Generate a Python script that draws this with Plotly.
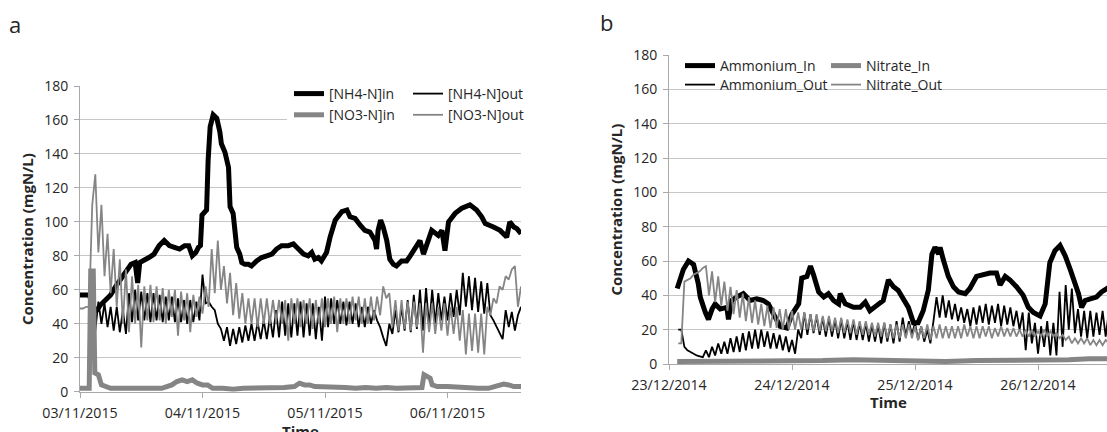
import pandas as pd
import plotly.graph_objects as go

W, H = 1107, 432
FONT = "Open Sans"
TXT = "#262626"
GRID = "#c6c6c6"
AXC = "#a9a9a9"
BLACK = "#000000"
GREY = "#858585"

# ---------------- panel a : 3-6 November 2015 ----------------
start_a = pd.Timestamp("2015-11-03 00:00")
end_a_h = 86.4

# influent ammonium (hours since start, mgN/L)
nh4_in_a_h = [0, 1, 1.9, 2.5, 3.3, 4, 5, 6, 7, 8, 9, 10, 10.8, 11.3, 11.7, 12.5, 13.5, 14.5,
              15.5, 16.5, 17.5, 18.5, 19.5, 20.5, 21.3, 22, 22.7, 23.2, 23.6, 23.9, 24.8, 25.1,
              25.5, 26.1, 26.8, 27.4, 27.7, 28.4, 29.1, 29.4, 30, 30.7, 31.3, 31.7, 32.3, 33,
              33.6, 34.6, 35.6, 36.6, 37.6, 38.5, 39.5, 40.8, 41.8, 42.8, 43.8, 44.7, 45.4, 46,
              46.7, 47.3, 48.3, 49, 50, 51.3, 52.3, 52.9, 53.9, 54.9, 55.8, 56.8, 57.8, 58.1,
              58.4, 58.9, 59.4, 60.1, 60.7, 61.4, 62, 63, 64, 64.7, 65.6, 66.6, 67.3, 67.9,
              68.9, 70.2, 70.9, 71.5, 72.2, 73.5, 74.8, 76.4, 77.7, 78.7, 79.4, 81, 82.3, 83.3,
              83.6, 84.2, 85, 85.6, 86.4]
nh4_in_a = [57, 57, 57, 47, 48, 51, 54, 57, 62, 66, 71, 75, 76, 64, 76, 77, 79, 81,
            86, 89, 86, 85, 84, 86, 86, 80, 82, 85, 86, 104, 107, 136,
            156, 163, 161, 153, 146, 141, 132, 109, 105, 85, 81, 76, 75, 75,
            74, 77, 79, 80, 81, 84, 86, 86, 87, 84, 81, 80, 82, 78,
            79, 77, 82, 91, 101, 106, 107, 103, 102, 98, 95, 94, 89, 84,
            95, 101, 97, 89, 78, 75, 74, 77, 77, 80, 84, 89, 81, 86,
            95, 92, 95, 83, 100, 105, 108, 110, 107, 103, 99, 97, 95, 92,
            91, 100, 97, 96, 93]

# influent nitrate
no3_in_a_h = [0, 1.8, 2.1, 2.6, 2.9, 3.6, 4.2, 5, 6, 8, 10, 12, 14, 16, 17, 18, 19, 20, 21,
              22, 23, 24, 25, 26, 28, 30, 32, 34, 36, 38, 40, 42, 43, 44, 45, 46, 48, 50,
              52, 54, 56, 58, 60, 62, 64, 66, 67, 67.4, 68.2, 68.6, 69, 70, 72, 74, 76, 78,
              80, 81, 82, 83, 84, 85, 86.4]
no3_in_a = [2, 2, 71, 71, 11, 10, 4, 3, 2, 2, 2, 2, 2, 2, 3, 4, 6, 7, 6,
            7, 5, 4, 4, 2, 2, 1.5, 2, 2, 2, 2, 2.5, 3, 5, 4, 4, 3, 3, 3,
            2.5, 2, 2.5, 2, 2.5, 2, 2, 2, 2.5, 10, 9, 8, 4, 3, 3, 2.5, 2, 2,
            2, 3, 4, 4.5, 4, 3, 3]

# effluent probes, logged every 36 minutes from the start of the run
nh4_out_a = [None, None, None, None, None,
             36, 53, 40, 52, 38, 50, 36, 50, 35, 48, 34, 58, 41, 60, 42, 59, 42, 58, 41, 58,
             42, 57, 41, 56, 42, 56, 41, 55, 41, 54, 40, 54, 41, 53, 42,
             69, 52, 53, 50, 48, 40, 37, 30, 38, 27, 37, 28, 38, 29, 39, 30, 40, 30, 41, 31,
             42, 31, 44, 32, 48, 32, 53, 33, 52, 32, 52, 33, 53, 32, 52, 33, 52, 31, 50, 30,
             56, 38, 55, 40, 54, 40, 53, 39, 53, 40, 52, 38, 50, 38, 50, 40, 48, 42, 38, 32,
             27, 40, 34, 48, 35, 50, 36, 54, 35, 57, 37, 60, 36, 61, 38, 60, 40, 58, 42, 56,
             42, 58, 44, 60, 45, 70, 50, 68, 48, 67, 47, 65, 46, 64, 45, 42, 38, 34, 31, 48,
             38, 47, 36, 45, 50]
no3_out_a = [49, 49, 50, 50, 110, 128, 82, 110, 68, 93, 58, 84, 50, 78, 40, 72, 35, 68, 40, 63,
             26, 62, 42, 63, 41, 62, 42, 61, 40, 60, 44, 60, 33, 59, 42, 58, 35, 57, 44, 56,
             46, 62, 50, 84, 58,
             89, 60, 74, 52, 70, 45, 64, 43, 58, 40, 55, 40, 55, 38, 55, 40, 55, 40, 54, 41,
             54, 40, 54, 30, 55, 40, 55, 38, 54, 40, 55, 37, 54, 40, 55,
             38, 55, 40, 56, 35, 55, 40, 55, 40, 56, 42, 56, 40, 55, 40, 56, 42, 56, 45, 62,
             55, 58, 38, 54, 36, 54, 37, 53, 36, 53, 38, 52, 23, 52, 35, 52, 34, 50, 36, 52,
             33, 50, 34, 50, 30, 48, 22, 46, 24, 46, 23, 46, 22, 50, 45, 55, 52, 62, 60, 68,
             66, 72, 74, 50, 62]

# ---------------- panel b : 23-26 December 2014 ----------------
start_b = pd.Timestamp("2014-12-23 00:00")
end_b_h = 85.46

amm_in_b_h = [1.6, 2.8, 3.8, 4.8, 5.7, 6.1, 7.1, 7.7, 8.4, 9.0, 10, 11.3, 11.6, 12.2, 13.2, 14.5,
              15.8, 17.1, 18.4, 19.4, 20.4, 21.7, 23, 24, 25.3, 25.9, 26.9, 27.6, 28.2, 29.2,
              30.2, 31.1, 32.1, 33.1, 33.4, 34.4, 36, 37.3, 38.3, 39.2, 40.5, 41.8, 42.8, 43.8,
              44.7, 45.7, 46.7, 47.7, 48.6, 49.6, 50.6, 51.3, 51.9, 52.6, 52.9, 53.5, 54.5,
              55.5, 56.5, 57.8, 58.7, 60, 61.3, 62.6, 63.9, 64.6, 65.6, 66.5, 67.8, 69.1, 70.1,
              71.1, 72.4, 73.4, 74.3, 75.3, 76.3, 77.3, 78.3, 79.2, 79.9, 80.5, 81.2, 82.2,
              83.4, 84.4, 85.5, 86]
amm_in_b = [44, 55, 60, 58, 47, 39, 30, 26, 32, 35, 32, 33, 26, 37, 39, 41,
            37, 38, 37, 35, 29, 22, 21, 29, 35, 50, 51, 57, 52, 42,
            39, 41, 37, 35, 41, 35, 33, 33, 36, 31, 34, 37, 49, 45,
            43, 38, 33, 24, 24, 31, 43, 64, 68, 64, 68, 61, 51,
            45, 42, 41, 44, 51, 52, 53, 53, 46, 51, 49, 45, 40, 33,
            30, 28, 35, 59, 66, 69, 63, 55, 47, 41, 33, 37, 38,
            39, 42, 44, 45]

nit_in_b_h = [1.6, 6, 12, 18, 24, 30, 36, 42, 48, 54, 60, 66, 72, 78, 82, 86]
nit_in_b = [1.5, 1.5, 2, 2, 2, 2, 2.5, 2, 1.5, 1.5, 2, 2, 2, 2.5, 3, 3]

# effluent probes, logged every 36 minutes
amm_out_b = [None, None, None,
             20, 20, 10, 8, 7, 6, 5, 4.5, 4, 8, 4, 10, 5, 12, 6, 13, 6, 15, 7, 16,
             7, 18, 8, 19, 9, 20, 9, 20, 10, 19, 9, 18, 9, 17, 8, 16, 7, 14, 6,
             20, 15, 30, 17, 29, 18, 28, 17, 27, 16, 27, 16, 26, 15, 26, 15, 25, 14, 25, 14,
             24, 14, 24, 13, 23, 13, 23, 12, 24, 13, 23, 12, 25, 13, 27, 16, 25, 17, 24, 14,
             22, 13, 20, 12,
             25, 39, 27, 40, 27, 37, 26, 35, 25, 33, 24, 32, 22, 33, 23, 34, 24, 35, 23, 34,
             24, 35, 22, 34, 23, 33, 22, 31, 20, 30, 8, 30, 12, 24, 6, 22, 10, 25, 5, 24,
             5, 42, 10, 46, 20, 44, 18, 32, 16, 31, 15, 31, 16, 30, 17, 31, 16, 30]
nit_out_b = [None, None, None,
             12, 12, 48, 49, 50, 52, 53, 54, 56, 57, 40, 54, 36, 51, 34, 48, 31, 45, 29, 43,
             27, 41, 25, 39, 24, 37, 23, 35, 22, 34, 21, 33, 21, 32, 20, 32, 20, 31, 20,
             30, 20, 30, 20, 29, 19, 29, 19, 28, 19, 28, 19, 27, 18, 27, 18, 26, 18, 26, 17,
             25, 17, 25, 17, 24, 16, 24, 16, 24, 15, 23, 15, 23, 15, 23, 15, 23, 15, 22, 14,
             22, 15, 23, 14,
             22, 15, 23, 15, 22, 15, 22, 15, 22, 15, 23, 16, 22, 15, 22, 15, 22, 16, 22, 15,
             21, 16, 22, 16, 21, 16, 21, 16, 20, 16, 20, 16, 20, 16, 19, 16, 20, 16, 19, 16,
             18, 15, 17, 14, 16, 12, 15, 12, 15, 12, 15, 11, 14, 11, 14, 11, 14, 12]

y_ticks = [0, 20, 40, 60, 80, 100, 120, 140, 160, 180]


def at_hours(start, hours):
    return start + pd.to_timedelta(hours, unit="h")


def logged(start, values):
    return pd.date_range(start, periods=len(values), freq="36min")


def px(x):
    return x / W


def py(y):
    return 1 - y / H


fig = go.Figure()

THICK, THIN = 5, 1.8


def series(x, y, name, color, width, axes, legend):
    xa, ya = axes
    return go.Scatter(x=x, y=y, name=name, mode="lines", line=dict(color=color, width=width),
                      xaxis=xa, yaxis=ya, legend=legend)


# panel a traces (drawing order follows the series order)
fig.add_trace(series(at_hours(start_a, nh4_in_a_h), nh4_in_a, "[NH4-N]in", BLACK, THICK,
                     ("x", "y"), "legend"))
fig.add_trace(series(logged(start_a, nh4_out_a), nh4_out_a, "[NH4-N]out", BLACK, THIN,
                     ("x", "y"), "legend2"))
fig.add_trace(series(at_hours(start_a, no3_in_a_h), no3_in_a, "[NO3-N]in", GREY, THICK,
                     ("x", "y"), "legend"))
fig.add_trace(series(logged(start_a, no3_out_a), no3_out_a, "[NO3-N]out", GREY, THIN,
                     ("x", "y"), "legend2"))

# panel b traces (one legend box per entry)
fig.add_trace(series(at_hours(start_b, amm_in_b_h), amm_in_b, "Ammonium_In", BLACK, THICK,
                     ("x2", "y2"), "legend3"))
fig.add_trace(series(at_hours(start_b, nit_in_b_h), nit_in_b, "Nitrate_In", GREY, THICK,
                     ("x2", "y2"), "legend4"))
fig.add_trace(series(logged(start_b, amm_out_b), amm_out_b, "Ammonium_Out", BLACK, THIN,
                     ("x2", "y2"), "legend5"))
fig.add_trace(series(logged(start_b, nit_out_b), nit_out_b, "Nitrate_Out", GREY, THIN,
                     ("x2", "y2"), "legend6"))

xcommon = dict(type="date", tickformat="%d/%m/%Y", dtick=86400000, ticks="outside", ticklen=5,
               tickcolor=AXC, showline=True, linecolor=AXC, linewidth=1, showgrid=False,
               zeroline=False, ticklabelstandoff=3, automargin=False,
               tickfont=dict(family=FONT, size=14.2, color=TXT))
ycommon = dict(range=[0, 180], tickvals=y_ticks, showgrid=True, gridcolor=GRID, gridwidth=1,
               showline=True, linecolor=AXC, linewidth=1, ticks="outside", ticklen=5,
               tickcolor=AXC, zeroline=False, ticklabelstandoff=3, automargin=False,
               tickfont=dict(family=FONT, size=14, color=TXT))

legcommon = dict(bgcolor="rgba(0,0,0,0)", borderwidth=0, orientation="v", xanchor="left",
                 yanchor="top", itemwidth=30, tracegroupgap=0, xref="paper", yref="paper",
                 font=dict(family=FONT, size=14, color=TXT))

fig.update_layout(
    width=W, height=H,
    margin=dict(l=0, r=0, t=0, b=0, pad=0, autoexpand=False),
    paper_bgcolor="white", plot_bgcolor="white",
    xaxis=dict(xcommon, domain=[px(80), px(521)], anchor="y",
               range=[start_a, at_hours(start_a, end_a_h)], tick0=start_a),
    yaxis=dict(ycommon, domain=[py(391.7), py(86)], anchor="x"),
    xaxis2=dict(xcommon, domain=[px(669), 1.0], anchor="y2",
                range=[start_b, at_hours(start_b, end_b_h)], tick0=start_b),
    yaxis2=dict(ycommon, domain=[py(364), py(55)], anchor="x2"),
    legend=dict(legcommon, x=px(289), y=py(78)),
    legend2=dict(legcommon, x=px(408), y=py(78)),
    legend3=dict(legcommon, x=px(680), y=py(50)),
    legend4=dict(legcommon, x=px(826), y=py(50)),
    legend5=dict(legcommon, x=px(680), y=py(69)),
    legend6=dict(legcommon, x=px(826), y=py(69)),
    showlegend=True,
)

# white backing behind the legend of panel a
fig.add_shape(type="rect", xref="paper", yref="paper", x0=px(287), x1=px(522),
              y0=py(128), y1=py(80), fillcolor="white", line=dict(width=0), layer="above")

title_font = dict(family=FONT, size=15, color=TXT, weight="bold")
notes = [
    dict(text="a", x=px(15), y=py(24), font=dict(family=FONT, size=22, color=TXT)),
    dict(text="b", x=px(606), y=py(22), font=dict(family=FONT, size=22, color=TXT)),
    dict(text="Concentration (mgN/L)", x=px(27), y=py(239), textangle=-90, font=title_font),
    dict(text="Concentration (mgN/L)", x=px(615), y=py(209.5), textangle=-90, font=title_font),
    dict(text="Time", x=px(300.5), y=py(431), font=title_font),
    dict(text="Time", x=px(888), y=py(402), font=title_font),
]
for n in notes:
    fig.add_annotation(xref="paper", yref="paper", showarrow=False, xanchor="center",
                       yanchor="middle", **n)

fig.write_html("out.html")
